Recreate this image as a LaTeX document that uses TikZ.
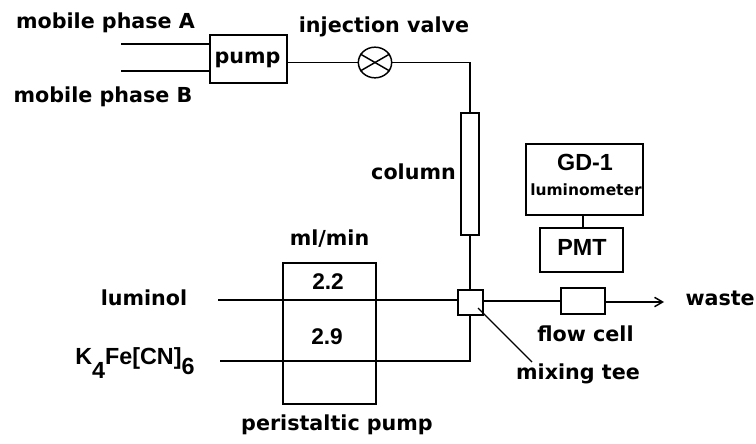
\documentclass[tikz,border=0pt]{standalone}
\usepackage{fontspec}
\setmainfont{Liberation Sans}
\newfontfamily\dvb{DejaVu Sans}[BoldFont={DejaVu Sans Bold}]
\usetikzlibrary{shapes.geometric,arrows.meta}
\tikzset{
  ln/.style={line width=1.1pt,black},
  thin box/.style={draw,line width=1.1pt,inner sep=0pt,fill=none},
  lbl/.style={inner sep=0pt,font=\dvb\bfseries\fontsize{15.5}{15.5}\selectfont},
  lblsmall/.style={inner sep=0pt,font=\dvb\bfseries\fontsize{11.6}{11.6}\selectfont},
  lblreg/.style={inner sep=0pt,font=\bfseries\fontsize{17.5}{17.5}\selectfont},
  lblnum/.style={inner sep=0pt,font=\bfseries\fontsize{17}{17}\selectfont},
}
\begin{document}
\begin{tikzpicture}[x=0.75pt,y=-0.75pt]
\useasboundingbox (0,0) rectangle (756,443);
% boxes
\node[thin box,minimum width=57.75pt,minimum height=36pt] (pump) at (248.5,59) {};
\node[lbl] (pumpt) at (247.5,60) {pump};
\node[draw,ellipse,line width=1.1pt,minimum width=25pt,minimum height=23pt,inner sep=0pt] (valve) at (375,62.5) {};
\node[thin box,minimum width=13.5pt,minimum height=91.5pt] (col) at (470,174) {};
\node[thin box,minimum width=18.75pt,minimum height=18.75pt] (tee) at (470.5,302.5) {};
\node[thin box,minimum width=33pt,minimum height=19.5pt] (cell) at (583,301) {};
\node[thin box,minimum width=87.75pt,minimum height=53.25pt] (gd) at (584.5,179.5) {};
\node[thin box,minimum width=62.25pt,minimum height=33pt] (pmt) at (581.5,250) {};
\node[thin box,minimum width=69.75pt,minimum height=105.75pt] (peri) at (329.5,333.5) {};
% free ends
\coordinate (a) at (121,44);
\coordinate (b) at (121,71);
\coordinate (corner) at (470,62.5);
\coordinate (lum) at (218,300);
\coordinate (kfe) at (220,361);
\coordinate (kcorner) at (470,361);
\coordinate (wasteend) at (664,302);
\coordinate (leadA) at (478,308);
\coordinate (leadB) at (532,362);
% connectors
\draw[ln] (a) -- (a -| pump.west);
\draw[ln] (b) -- (b -| pump.west);
\draw[ln] (valve.west -| pump.east) -- (valve.west);
\draw[ln] (valve.150) -- (valve.-30);
\draw[ln] (valve.-150) -- (valve.30);
\draw[ln] (valve.east) -- (corner) -- (col.north);
\draw[ln] (col.south) -- (tee.north -| col.south);
\draw[ln] (lum) -- (lum -| tee.west);
\draw[ln] (kfe) -- (kcorner) -- (tee.south -| kcorner);
\draw[ln] (tee.east |- cell.west) -- (cell.west);
\draw[ln,-{Straight Barb[length=6pt,width=7pt]}] (wasteend -| cell.east) -- (wasteend);
\draw[ln] (gd.south -| 583,0) -- (pmt.north -| 583,0);
\draw[line width=0.9pt] (leadA) -- (leadB);
% labels
\node[lbl] (t1) at (105.5,23) {mobile phase A};
\node[lbl] (t2) at (103,97) {mobile phase B};
\node[lbl] (t3) at (384,27) {injection valve};
\node[lbl,anchor=east] (t4) at (456,172) {column};
\node[lblreg] (t5) at (585,162) {GD-1};
\node[lblsmall] (t6) at (586,190) {luminometer};
\node[lblreg] (t7) at (582,247) {PMT};
\node[lbl] (t8) at (329.5,239) {ml/min};
\node[lblnum] (t9) at (328,282) {2.2};
\node[lblnum] (t10) at (327,337) {2.9};
\node[lbl] (t11) at (144,298) {luminol};
\node[lblreg,anchor=base west] (t12) at (75,364) {K\raisebox{-10.5pt}{4}Fe[CN]\raisebox{-8pt}{6}};
\node[lbl] (t13) at (585.5,334) {flow cell};
\node[lbl] (t14) at (578,374) {mixing tee};
\node[lbl,anchor=east] (t15) at (755,298) {waste};
\node[lbl] (t16) at (337,425) {peristaltic pump};
\end{tikzpicture}
\end{document}
